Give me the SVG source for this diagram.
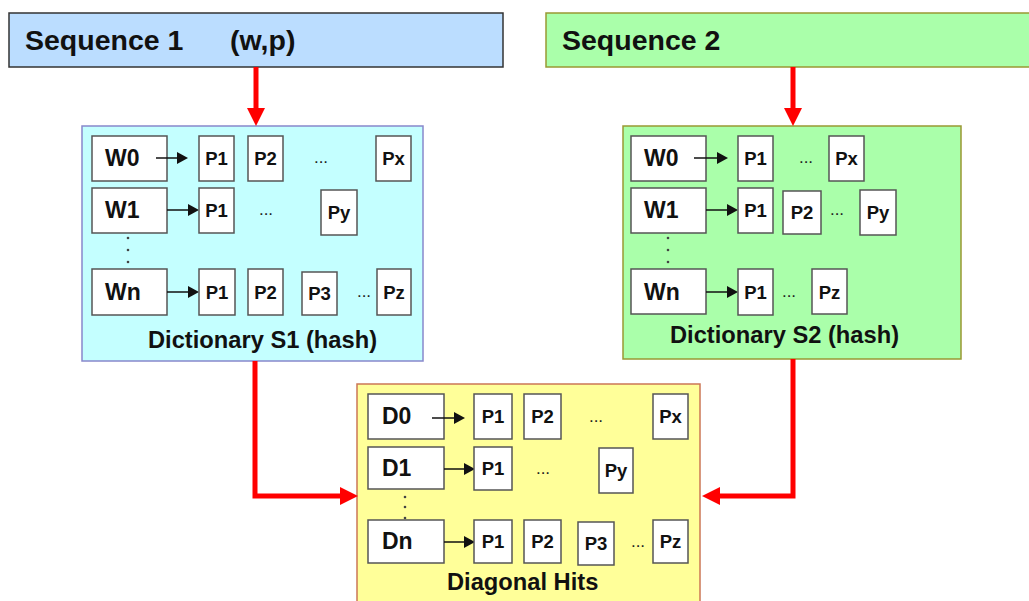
<svg xmlns="http://www.w3.org/2000/svg" width="1029" height="601" viewBox="0 0 1029 601">
  <style>
    .lbl { font-family: "Liberation Sans", Arial, sans-serif; font-weight: bold; fill: #111; }
    .big { font-size: 28.5px; }
    .key { font-size: 23px; }
    .cap { font-size: 23.7px; }
    .p { font-size: 18.5px; text-anchor: middle; }
    .ell { font-family: "Liberation Sans", Arial, sans-serif; font-size: 17px; fill: #222; text-anchor: middle; }
    .cell { fill: #ffffff; stroke: #555555; stroke-width: 1.5; }
    .ptr { fill: none; stroke: #111; stroke-width: 1.5; marker-end: url(#blk); }
    .flow { fill: none; stroke: #ff0000; stroke-width: 5; marker-end: url(#red); }
    .dot { fill: #444; }
  </style>
  <defs>
    <marker id="blk" markerUnits="userSpaceOnUse" markerWidth="11" markerHeight="12" refX="0" refY="6" orient="auto">
      <path d="M0,0 L11,6 L0,12 z" fill="#111"/>
    </marker>
    <marker id="red" markerUnits="userSpaceOnUse" markerWidth="18" markerHeight="18" refX="0" refY="9" orient="auto">
      <path d="M0,0 L18,9 L0,18 z" fill="#ff0000"/>
    </marker>
  </defs>

  <rect width="1029" height="601" fill="#ffffff"/>

  <!-- input sequences -->
  <g id="seq1">
    <rect x="9" y="13" width="494" height="54" fill="#bbddff" stroke="#333333" stroke-width="1.5"/>
    <text class="lbl big" x="25" y="50">Sequence 1</text>
    <text class="lbl big" x="230" y="50">(w,p)</text>
  </g>
  <g id="seq2">
    <rect x="546" y="13" width="490" height="54" fill="#aaffaa" stroke="#999933" stroke-width="1.5"/>
    <text class="lbl big" x="562" y="50">Sequence 2</text>
  </g>

  <!-- dictionary for sequence 1 -->
  <g id="dict1">
    <rect x="82" y="126" width="341" height="235" fill="#c4ffff" stroke="#8888cc" stroke-width="1.5"/>
    <rect class="cell" x="92" y="136" width="75" height="45"/>
    <text class="lbl key" x="105" y="166">W0</text>
    <path class="ptr" d="M156,158 H177"/>
    <rect class="cell" x="199" y="136" width="35" height="45"/>
    <text class="lbl p" x="216.5" y="165">P1</text>
    <rect class="cell" x="248" y="136" width="35" height="45"/>
    <text class="lbl p" x="265.5" y="165">P2</text>
    <text class="ell" x="321" y="163">...</text>
    <rect class="cell" x="376" y="136" width="35" height="45"/>
    <text class="lbl p" x="393.5" y="165">Px</text>

    <rect class="cell" x="92" y="188" width="75" height="45"/>
    <text class="lbl key" x="105" y="218">W1</text>
    <path class="ptr" d="M167,210 H188"/>
    <rect class="cell" x="199" y="188" width="35" height="45"/>
    <text class="lbl p" x="216.5" y="217">P1</text>
    <text class="ell" x="266" y="215">...</text>
    <rect class="cell" x="321" y="190" width="36" height="45"/>
    <text class="lbl p" x="339" y="219">Py</text>

    <circle class="dot" cx="128" cy="238" r="1.3"/>
    <circle class="dot" cx="128" cy="250" r="1.3"/>
    <circle class="dot" cx="128" cy="262" r="1.3"/>

    <rect class="cell" x="92" y="269" width="75" height="46"/>
    <text class="lbl key" x="105" y="300">Wn</text>
    <path class="ptr" d="M167,292 H188"/>
    <rect class="cell" x="199" y="269" width="36" height="46"/>
    <text class="lbl p" x="217" y="299">P1</text>
    <rect class="cell" x="248" y="269" width="35" height="46"/>
    <text class="lbl p" x="265.5" y="299">P2</text>
    <rect class="cell" x="302" y="272" width="35" height="43"/>
    <text class="lbl p" x="319.5" y="300">P3</text>
    <text class="ell" x="364" y="297">...</text>
    <rect class="cell" x="377" y="269" width="34" height="46"/>
    <text class="lbl p" x="394" y="299">Pz</text>

    <text class="lbl cap" x="148" y="348">Dictionary S1 (hash)</text>
  </g>

  <!-- dictionary for sequence 2 -->
  <g id="dict2">
    <rect x="623" y="126" width="338" height="233" fill="#aaffaa" stroke="#999933" stroke-width="1.5"/>
    <rect class="cell" x="631" y="136" width="75" height="45"/>
    <text class="lbl key" x="644" y="166">W0</text>
    <path class="ptr" d="M694,158 H717"/>
    <rect class="cell" x="738" y="136" width="35" height="45"/>
    <text class="lbl p" x="755.5" y="165">P1</text>
    <text class="ell" x="806" y="163">...</text>
    <rect class="cell" x="829" y="136" width="35" height="45"/>
    <text class="lbl p" x="846.5" y="165">Px</text>

    <rect class="cell" x="631" y="188" width="75" height="45"/>
    <text class="lbl key" x="644" y="218">W1</text>
    <path class="ptr" d="M706,210 H727"/>
    <rect class="cell" x="738" y="188" width="35" height="45"/>
    <text class="lbl p" x="755.5" y="217">P1</text>
    <rect class="cell" x="783" y="191" width="38" height="43"/>
    <text class="lbl p" x="802" y="219">P2</text>
    <text class="ell" x="837" y="215">...</text>
    <rect class="cell" x="860" y="190" width="36" height="45"/>
    <text class="lbl p" x="878" y="219">Py</text>

    <circle class="dot" cx="668" cy="238" r="1.3"/>
    <circle class="dot" cx="668" cy="250" r="1.3"/>
    <circle class="dot" cx="668" cy="262" r="1.3"/>

    <rect class="cell" x="631" y="269" width="75" height="45"/>
    <text class="lbl key" x="644" y="300">Wn</text>
    <path class="ptr" d="M706,292 H727"/>
    <rect class="cell" x="738" y="269" width="35" height="46"/>
    <text class="lbl p" x="755.5" y="299">P1</text>
    <text class="ell" x="789" y="297">...</text>
    <rect class="cell" x="812" y="269" width="35" height="45"/>
    <text class="lbl p" x="829.5" y="299">Pz</text>

    <text class="lbl cap" x="670" y="343">Dictionary S2 (hash)</text>
  </g>

  <!-- merged diagonal hits -->
  <g id="diag">
    <rect x="357" y="384" width="343" height="230" fill="#ffff99" stroke="#cc7755" stroke-width="1.5"/>
    <rect class="cell" x="368" y="394" width="76" height="45"/>
    <text class="lbl key" x="382" y="424">D0</text>
    <path class="ptr" d="M432,418 H454"/>
    <rect class="cell" x="474" y="394" width="38" height="45"/>
    <text class="lbl p" x="493" y="423">P1</text>
    <rect class="cell" x="524" y="394" width="37" height="45"/>
    <text class="lbl p" x="542.5" y="423">P2</text>
    <text class="ell" x="596" y="422">...</text>
    <rect class="cell" x="653" y="394" width="35" height="45"/>
    <text class="lbl p" x="670.5" y="423">Px</text>

    <rect class="cell" x="368" y="447" width="76" height="42"/>
    <text class="lbl key" x="382" y="476">D1</text>
    <path class="ptr" d="M444,469 H464"/>
    <rect class="cell" x="474" y="447" width="38" height="43"/>
    <text class="lbl p" x="493" y="475">P1</text>
    <text class="ell" x="543" y="474">...</text>
    <rect class="cell" x="599" y="448" width="34" height="45"/>
    <text class="lbl p" x="616" y="477">Py</text>

    <circle class="dot" cx="405" cy="497" r="1.3"/>
    <circle class="dot" cx="405" cy="507" r="1.3"/>
    <circle class="dot" cx="405" cy="518" r="1.3"/>

    <rect class="cell" x="368" y="520" width="76" height="43"/>
    <text class="lbl key" x="382" y="549">Dn</text>
    <path class="ptr" d="M444,542 H464"/>
    <rect class="cell" x="474" y="520" width="38" height="43"/>
    <text class="lbl p" x="493" y="548">P1</text>
    <rect class="cell" x="524" y="520" width="37" height="43"/>
    <text class="lbl p" x="542.5" y="548">P2</text>
    <rect class="cell" x="578" y="522" width="36" height="43"/>
    <text class="lbl p" x="596" y="550">P3</text>
    <text class="ell" x="638" y="547">...</text>
    <rect class="cell" x="653" y="520" width="35" height="43"/>
    <text class="lbl p" x="670.5" y="548">Pz</text>

    <text class="lbl cap" x="447" y="590">Diagonal Hits</text>
  </g>

  <!-- data flow -->
  <g id="connectors">
    <path class="flow" d="M256,67 V108"/>
    <path class="flow" d="M793,67 V108"/>
    <path class="flow" d="M255,361 V496 H340"/>
    <path class="flow" d="M793,359 V496 H720"/>
  </g>
</svg>
